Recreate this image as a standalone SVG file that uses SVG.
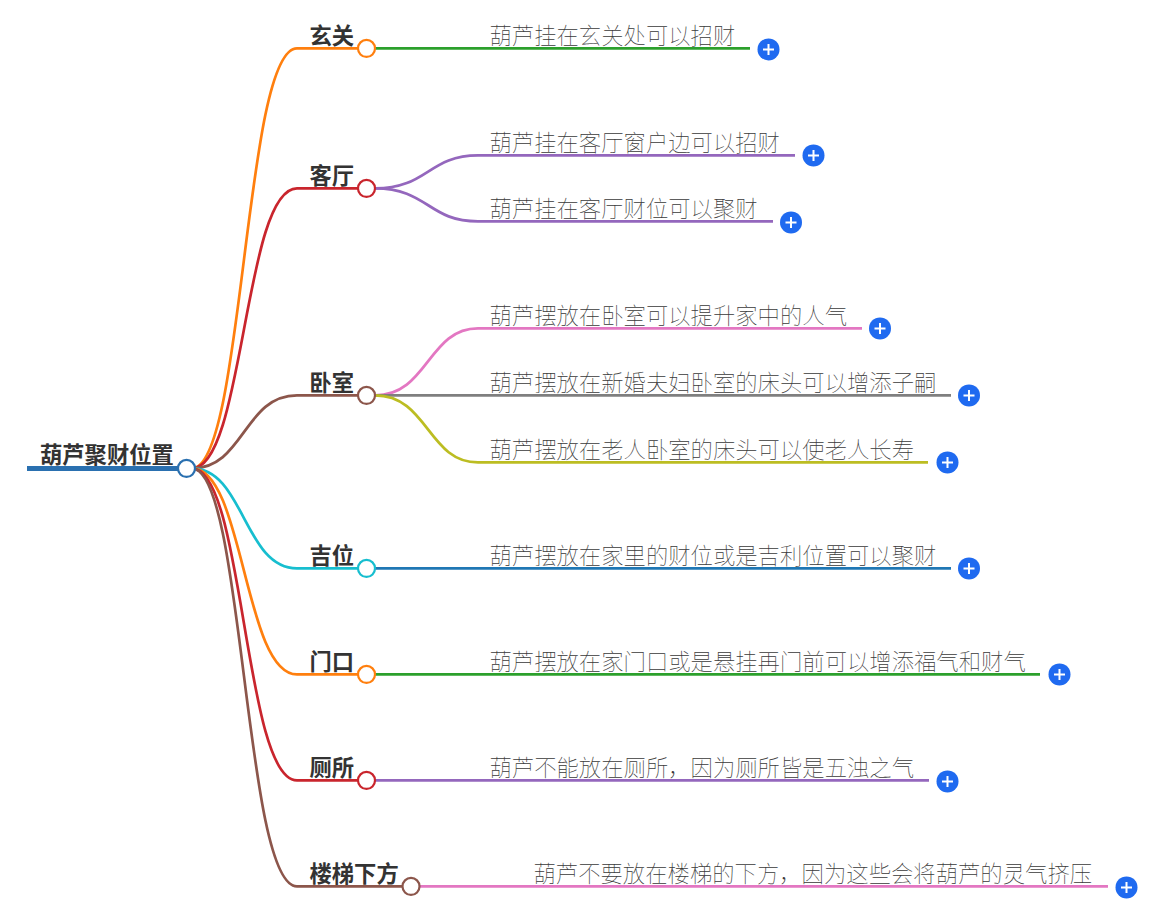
<svg xmlns="http://www.w3.org/2000/svg" width="1163" height="906" viewBox="0 0 1163 906">
<style>
.c{fill:none;stroke-width:2.7;stroke-linecap:butt}
.h{font:700 22.3px "Noto Sans CJK SC","Noto Sans",sans-serif;fill:#333}
.l{font:100 22.35px "Noto Sans CJK SC","Noto Sans",sans-serif;fill:#3a3a3a}
.n{fill:#fff;stroke-width:2.2}
.p{fill:#1f6af0}
.w{stroke:#fff;stroke-width:2;fill:none}
</style>
<defs><g id="plus"><circle class="p" r="11"/><path class="w" d="M-5.500,0H5.500M0,-5.500V5.500"/></g></defs>
<rect width="1163" height="906" fill="#fff"/>
<g transform="translate(0,.4)">
<g id="connectors">
<path d="M27,468H178" fill="none" stroke="#2a70b0" stroke-width="5"/>
<path class="c" stroke="#ff7f0e" d="M192,468C244,468 244,48 297,48H358"/>
<path class="c" stroke="#c9252d" d="M192,468C244,468 244,188 297,188H358"/>
<path class="c" stroke="#8c564b" d="M192,468C244,468 244,395 297,395H358"/>
<path class="c" stroke="#17becf" d="M192,468C244,468 244,568 297,568H358"/>
<path class="c" stroke="#ff7f0e" d="M192,468C244,468 244,674 297,674H358"/>
<path class="c" stroke="#c9252d" d="M192,468C244,468 244,780 297,780H358"/>
<path class="c" stroke="#8c564b" d="M192,468C244,468 244,886 297,886H402"/>
<path class="c" stroke="#2ca02c" d="M375,48H750"/>
<path class="c" stroke="#9467bd" d="M375,188C428,188 428,155 478,155H795"/>
<path class="c" stroke="#9467bd" d="M375,188C428,188 428,221 478,221H773"/>
<path class="c" stroke="#e377c2" d="M375,395C428,395 428,328 478,328H862"/>
<path class="c" stroke="#7f7f7f" d="M375,395H951"/>
<path class="c" stroke="#bcbd22" d="M375,395C428,395 428,462 478,462H928"/>
<path class="c" stroke="#1f77b4" d="M375,568H951"/>
<path class="c" stroke="#2ca02c" d="M375,674H1040"/>
<path class="c" stroke="#9467bd" d="M375,780H929"/>
<path class="c" stroke="#e377c2" d="M420,886H1108"/>
</g>
<g id="root"><text class="h" x="40" y="462.700">葫芦聚财位置</text><circle class="n" cx="186.500" cy="468" r="8.500" stroke="#2a70b0"/></g>
<g id="n1"><text class="h" x="309.500" y="43.700">玄关</text><circle class="n" cx="366.500" cy="48" r="8.500" stroke="#ff7f0e"/></g>
<g id="n2"><text class="h" x="309.500" y="183.700">客厅</text><circle class="n" cx="366.500" cy="188" r="8.500" stroke="#c9252d"/></g>
<g id="n3"><text class="h" x="309.500" y="390.700">卧室</text><circle class="n" cx="366.500" cy="395" r="8.500" stroke="#8c564b"/></g>
<g id="n4"><text class="h" x="309.500" y="563.700">吉位</text><circle class="n" cx="366.500" cy="568" r="8.500" stroke="#17becf"/></g>
<g id="n5"><text class="h" x="309.500" y="669.700">门口</text><circle class="n" cx="366.500" cy="674" r="8.500" stroke="#ff7f0e"/></g>
<g id="n6"><text class="h" x="309.500" y="775.700">厕所</text><circle class="n" cx="366.500" cy="780" r="8.500" stroke="#c9252d"/></g>
<g id="n7"><text class="h" x="309.500" y="881.700">楼梯下方</text><circle class="n" cx="411" cy="886" r="8.500" stroke="#8c564b"/></g>
<g id="l1"><text class="l" x="489.500" y="44">葫芦挂在玄关处可以招财</text><use href="#plus" x="768.500" y="49"/></g>
<g id="l2"><text class="l" x="489.500" y="151">葫芦挂在客厅窗户边可以招财</text><use href="#plus" x="813.500" y="155"/></g>
<g id="l3"><text class="l" x="489.500" y="217">葫芦挂在客厅财位可以聚财</text><use href="#plus" x="791" y="222"/></g>
<g id="l4"><text class="l" x="489.500" y="324">葫芦摆放在卧室可以提升家中的人气</text><use href="#plus" x="880" y="328"/></g>
<g id="l5"><text class="l" x="489.500" y="391">葫芦摆放在新婚夫妇卧室的床头可以增添子嗣</text><use href="#plus" x="969" y="395"/></g>
<g id="l6"><text class="l" x="489.500" y="458">葫芦摆放在老人卧室的床头可以使老人长寿</text><use href="#plus" x="947.500" y="462"/></g>
<g id="l7"><text class="l" x="489.500" y="564">葫芦摆放在家里的财位或是吉利位置可以聚财</text><use href="#plus" x="969" y="568"/></g>
<g id="l8"><text class="l" x="489.500" y="670">葫芦摆放在家门口或是悬挂再门前可以增添福气和财气</text><use href="#plus" x="1059.500" y="674"/></g>
<g id="l9"><text class="l" x="489.500" y="776">葫芦不能放在厕所，因为厕所皆是五浊之气</text><use href="#plus" x="947.500" y="781"/></g>
<g id="l10"><text class="l" x="533.500" y="882">葫芦不要放在楼梯的下方，因为这些会将葫芦的灵气挤压</text><use href="#plus" x="1126.500" y="887"/></g>
</g>
</svg>
